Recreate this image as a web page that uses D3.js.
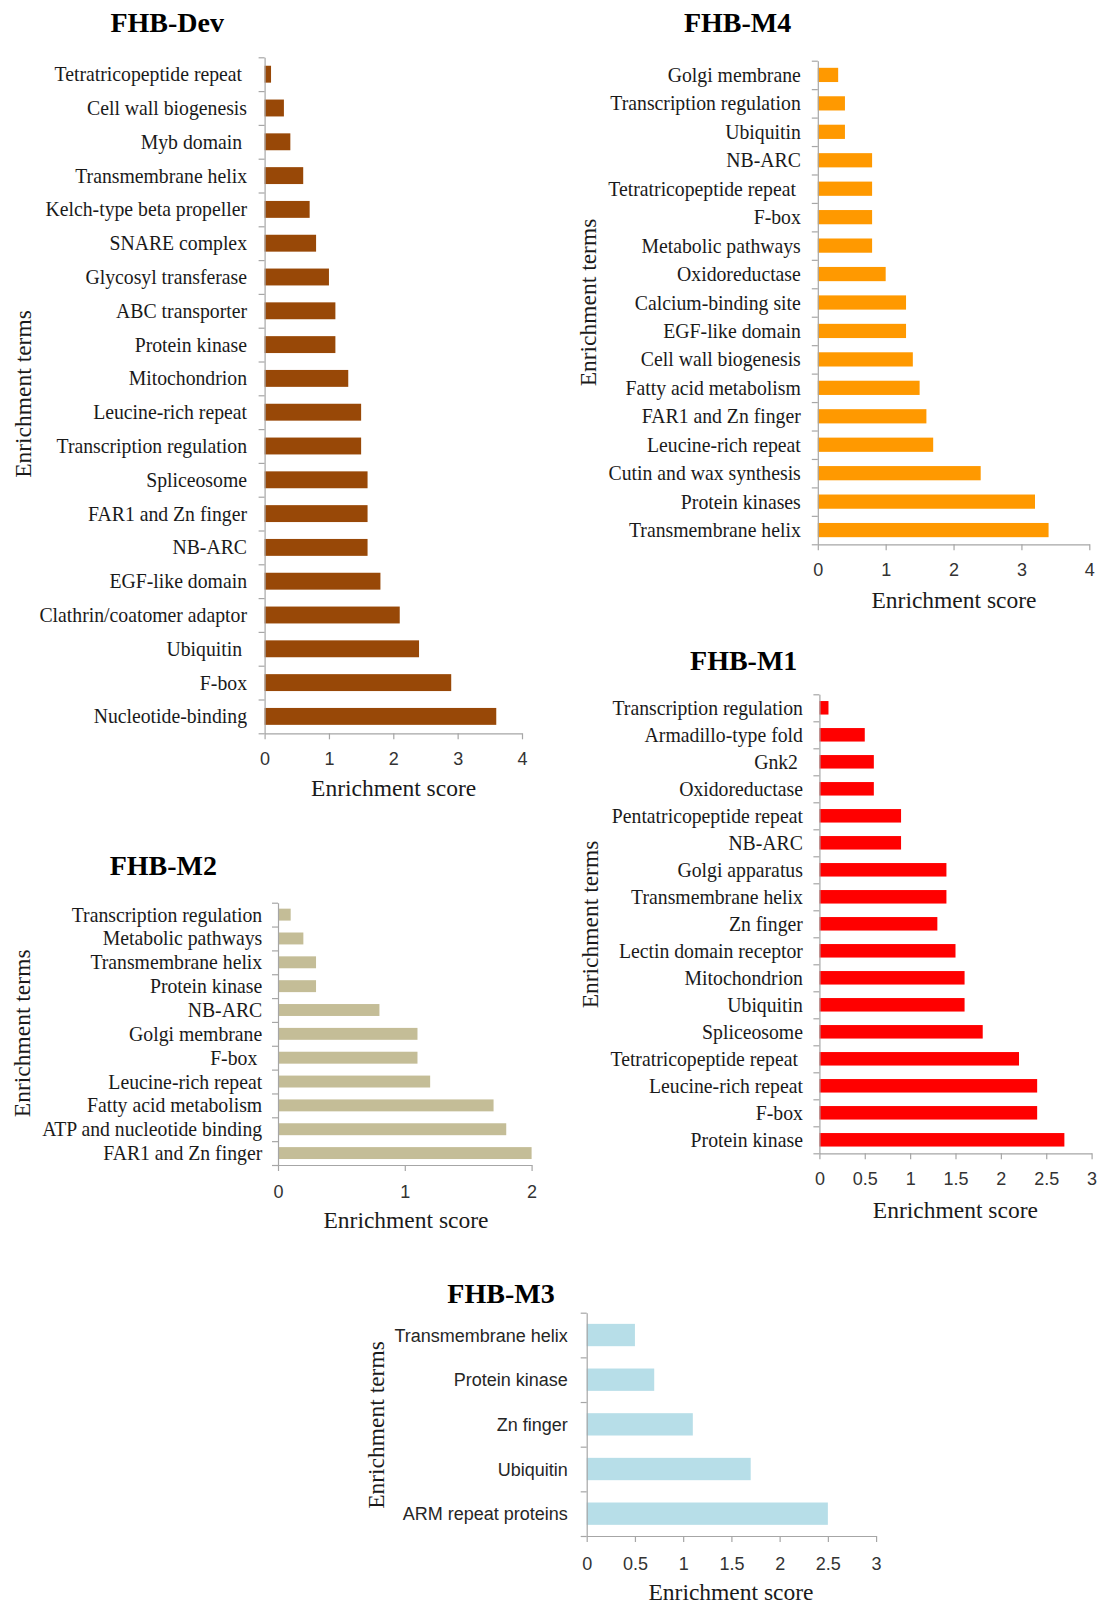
<!DOCTYPE html>
<html><head><meta charset="utf-8">
<script src="https://cdn.jsdelivr.net/npm/d3@7"></script>
<style>
body{margin:0;background:#fff;}
svg{display:block;}
text{white-space:pre;}
</style></head><body>
<svg id="chart" width="1099" height="1605"></svg>
<script>
// ---------------- DATA ----------------
const devTerms = ["Tetratricopeptide repeat ","Cell wall biogenesis","Myb domain ","Transmembrane helix","Kelch-type beta propeller","SNARE complex","Glycosyl transferase","ABC transporter","Protein kinase","Mitochondrion","Leucine-rich repeat","Transcription regulation","Spliceosome","FAR1 and Zn finger","NB-ARC","EGF-like domain","Clathrin/coatomer adaptor","Ubiquitin ","F-box","Nucleotide-binding"];
const devScores = [0.1,0.3,0.4,0.6,0.7,0.8,1.0,1.1,1.1,1.3,1.5,1.5,1.6,1.6,1.6,1.8,2.1,2.4,2.9,3.6];

const m4Terms = ["Golgi membrane","Transcription regulation","Ubiquitin","NB-ARC","Tetratricopeptide repeat ","F-box","Metabolic pathways","Oxidoreductase","Calcium-binding site","EGF-like domain","Cell wall biogenesis","Fatty acid metabolism","FAR1 and Zn finger","Leucine-rich repeat","Cutin and wax synthesis","Protein kinases","Transmembrane helix"];
const m4Scores = [0.3,0.4,0.4,0.8,0.8,0.8,0.8,1.0,1.3,1.3,1.4,1.5,1.6,1.7,2.4,3.2,3.4];

const m1Terms = ["Transcription regulation","Armadillo-type fold","Gnk2 ","Oxidoreductase","Pentatricopeptide repeat","NB-ARC","Golgi apparatus","Transmembrane helix","Zn finger","Lectin domain receptor","Mitochondrion","Ubiquitin","Spliceosome","Tetratricopeptide repeat ","Leucine-rich repeat","F-box","Protein kinase"];
const m1Scores = [0.1,0.5,0.6,0.6,0.9,0.9,1.4,1.4,1.3,1.5,1.6,1.6,1.8,2.2,2.4,2.4,2.7];

const m2Terms = ["Transcription regulation","Metabolic pathways","Transmembrane helix","Protein kinase","NB-ARC","Golgi membrane","F-box ","Leucine-rich repeat","Fatty acid metabolism","ATP and nucleotide binding","FAR1 and Zn finger"];
const m2Scores = [0.1,0.2,0.3,0.3,0.8,1.1,1.1,1.2,1.7,1.8,2.0];

const m3Terms = ["Transmembrane helix","Protein kinase","Zn finger","Ubiquitin","ARM repeat proteins"];
const m3Scores = [0.5,0.7,1.1,1.7,2.5];

const devTicks = [0,1,2,3,4];
const m4Ticks = [0,1,2,3,4];
const m1Ticks = [0,0.5,1,1.5,2,2.5,3];
const m2Ticks = [0,1,2];
const m3Ticks = [0,0.5,1,1.5,2,2.5,3];

const panelTitles = ["FHB-Dev","FHB-M4","FHB-M1","FHB-M2","FHB-M3"];
const xAxisTitle = "Enrichment score";
const yAxisTitle = "Enrichment terms";

// ---------------- LAYOUT ----------------
const svg = d3.select("#chart");
const SERIF = "'Liberation Serif','Times New Roman',Times,serif";
const SANS = "'Liberation Sans',Arial,sans-serif";
const AXIS_COLOR = "#a6a6a6";

function drawPanel(terms, scores, ticks, title, L) {
  const g = svg.append("g");
  const x = d3.scaleLinear().domain([0, d3.max(ticks)]).range([L.x0, L.x1]);
  const y = d3.scaleBand().domain(d3.range(terms.length)).range([L.top, L.bottom])
    .paddingInner(0.5).paddingOuter(0.25);

  // bars
  g.append("g").selectAll("rect").data(scores).join("rect")
    .attr("x", x(0))
    .attr("y", (d, i) => y(i))
    .attr("width", d => x(d) - x(0))
    .attr("height", y.bandwidth())
    .attr("fill", L.color);

  // category boundary axis (left)
  const yb = d3.scaleLinear().domain([0, terms.length]).range([L.top, L.bottom]);
  const ya = g.append("g").attr("transform", `translate(${x(0)},0)`)
    .call(d3.axisLeft(yb).tickValues(d3.range(terms.length + 1)).tickFormat("").tickSize(6).tickSizeOuter(0));
  ya.selectAll("path,line").attr("stroke", AXIS_COLOR).attr("stroke-width", 1.2);

  // x axis
  const xa = g.append("g").attr("transform", `translate(0,${L.bottom})`)
    .call(d3.axisBottom(x).tickValues(ticks).tickSize(6).tickSizeOuter(0).tickFormat(d => String(d)));
  xa.selectAll("path,line").attr("stroke", AXIS_COLOR).attr("stroke-width", 1.2);
  xa.selectAll("text")
    .attr("y", L.tickY - L.bottom).attr("dy", null)
    .attr("font-family", SANS).attr("font-size", 18).attr("fill", "#333");

  // category labels
  const fs = L.sans ? 18 : 21;
  const sx = L.sans ? 1 : 0.94;
  const off = L.sans ? 6.6 : 7;
  g.append("g").selectAll("text").data(terms).join("text")
    .attr("transform", (d, i) => `translate(${x(0) - L.gap},${y(i) + y.bandwidth() / 2 + off}) scale(${sx},1)`)
    .attr("text-anchor", "end")
    .attr("font-family", L.sans ? SANS : SERIF)
    .attr("font-size", fs)
    .attr("fill", L.sans ? "#262626" : "#1a1a1a")
    .text(d => d);

  // panel title
  g.append("text").attr("x", L.titleX).attr("y", L.titleY)
    .attr("text-anchor", "middle").attr("font-family", SERIF).attr("font-weight", "bold")
    .attr("font-size", 28).attr("fill", "#000").text(title);

  // x axis title
  g.append("text").attr("x", L.xtX).attr("y", L.xtY)
    .attr("text-anchor", "middle").attr("font-family", SERIF)
    .attr("font-size", 23.5).attr("fill", "#1a1a1a").text(xAxisTitle);

  // y axis title
  g.append("text").attr("transform", `translate(${L.ytX},${L.ytY}) rotate(-90)`)
    .attr("text-anchor", "middle").attr("font-family", SERIF)
    .attr("font-size", 23.5).attr("fill", "#1a1a1a").text(yAxisTitle);
}

drawPanel(devTerms, devScores, devTicks, panelTitles[0], {
  x0: 264.6, x1: 522.0, top: 57.3, bottom: 733.3, color: "#984807", gap: 17.6,
  tickY: 765.5, titleX: 167.2, titleY: 32, xtX: 393.6, xtY: 796, ytX: 31, ytY: 394, sans: false
});
drawPanel(m4Terms, m4Scores, m4Ticks, panelTitles[1], {
  x0: 817.8, x1: 1089.3, top: 60.7, bottom: 544.3, color: "#ff9900", gap: 17,
  tickY: 576.5, titleX: 737.6, titleY: 32, xtX: 954, xtY: 608, ytX: 596, ytY: 302.5, sans: false
});
drawPanel(m1Terms, m1Scores, m1Ticks, panelTitles[2], {
  x0: 819.4, x1: 1091.6, top: 694.3, bottom: 1153.3, color: "#ff0000", gap: 16.5,
  tickY: 1185.5, titleX: 743.7, titleY: 670, xtX: 955.4, xtY: 1217.5, ytX: 598, ytY: 924.5, sans: false
});
drawPanel(m2Terms, m2Scores, m2Ticks, panelTitles[3], {
  x0: 278, x1: 531.6, top: 902.7, bottom: 1165, color: "#c4bd97", gap: 15.8,
  tickY: 1198, titleX: 163.4, titleY: 875, xtX: 406, xtY: 1228.3, ytX: 30, ytY: 1033.3, sans: false
});
drawPanel(m3Terms, m3Scores, m3Ticks, panelTitles[4], {
  x0: 586.7, x1: 876.1, top: 1312.7, bottom: 1536, color: "#b7dee8", gap: 18.9,
  tickY: 1570, titleX: 501, titleY: 1303.3, xtX: 731, xtY: 1600, ytX: 384.4, ytY: 1425, sans: true
});
</script>
</body></html>
